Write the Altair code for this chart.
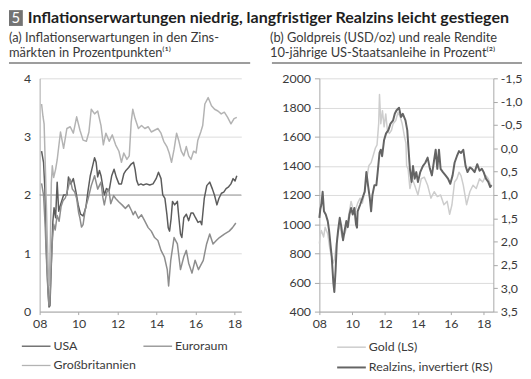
import altair as alt
import pandas as pd

# ---------------- texts ----------------
header_num = ["5"]
header_title = ["Inflationserwartungen niedrig, langfristiger Realzins leicht gestiegen"]
sub_a = ["(a) Inflationserwartungen in den Zins-", "märkten in Prozentpunkten⁽¹⁾"]
sub_b = ["(b) Goldpreis (USD/oz) und reale Rendite", "10-jährige US-Staatsanleihe in Prozent⁽²⁾"]

series_a = ["USA", "Euroraum", "Großbritannien"]
colors_a = ["#5c5c5c", "#8d8d8d", "#b3b3b3"]
series_b = ["Gold (LS)", "Realzins, invertiert (RS)"]
colors_b = ["#cdcdcd", "#646464"]

year_ticks = [2008, 2010, 2012, 2014, 2016, 2018]
ticks_a = [0, 1, 2, 3, 4]
ticks_gold = [400, 600, 800, 1000, 1200, 1400, 1600, 1800, 2000]
ticks_real = [-1.5, -1.0, -0.5, 0.0, 0.5, 1.0, 1.5, 2.0, 2.5, 3.0, 3.5]
ref_line_a = [2]

# ---------------- panel (a) data: (year, value) ----------------
usa = [(2008.10, 2.75), (2008.20, 2.56), (2008.27, 2.10), (2008.33, 1.20), (2008.38, 0.75),
       (2008.44, 0.30), (2008.48, 0.08), (2008.53, 0.10), (2008.58, 0.60), (2008.63, 1.10),
       (2008.68, 1.55), (2008.74, 1.78), (2008.82, 1.61), (2008.90, 2.22), (2008.98, 1.72),
       (2009.07, 1.83), (2009.23, 2.00), (2009.40, 2.00), (2009.48, 2.31), (2009.60, 2.19),
       (2009.73, 2.28), (2009.85, 2.08), (2009.98, 1.83), (2010.10, 1.67), (2010.23, 1.64),
       (2010.37, 1.78), (2010.48, 2.06), (2010.60, 2.33), (2010.70, 2.47), (2010.82, 2.64),
       (2010.90, 2.56), (2010.98, 2.31), (2011.07, 2.42), (2011.15, 2.33), (2011.23, 2.17),
       (2011.32, 2.00), (2011.43, 2.11), (2011.57, 2.08), (2011.70, 2.33), (2011.82, 2.44),
       (2011.93, 2.31), (2012.07, 2.19), (2012.20, 2.19), (2012.32, 2.36), (2012.43, 2.42),
       (2012.57, 2.47), (2012.70, 2.53), (2012.82, 2.56), (2012.90, 2.44), (2012.98, 2.25),
       (2013.07, 2.17), (2013.20, 2.19), (2013.32, 2.17), (2013.48, 2.19), (2013.65, 2.17),
       (2013.82, 2.19), (2013.98, 2.28), (2014.10, 2.39), (2014.23, 2.28), (2014.32, 2.00),
       (2014.43, 1.94), (2014.53, 1.67), (2014.60, 1.44), (2014.67, 1.38), (2014.75, 1.60),
       (2014.82, 1.89), (2014.93, 1.83), (2015.07, 1.89), (2015.13, 1.67), (2015.23, 1.33),
       (2015.30, 1.27), (2015.40, 1.61), (2015.53, 1.67), (2015.65, 1.56), (2015.77, 1.69),
       (2015.88, 1.69), (2016.00, 1.61), (2016.13, 1.53), (2016.25, 1.55), (2016.32, 1.49),
       (2016.45, 1.94), (2016.58, 2.16), (2016.73, 2.22), (2016.87, 2.10), (2016.98, 1.99),
       (2017.10, 1.83), (2017.20, 1.94), (2017.33, 2.03), (2017.45, 2.05), (2017.57, 2.11),
       (2017.70, 2.14), (2017.82, 2.19), (2017.93, 2.28), (2018.03, 2.24), (2018.12, 2.33)]

euro = [(2008.10, 2.20), (2008.20, 2.00), (2008.28, 1.50), (2008.35, 0.90), (2008.42, 0.40),
        (2008.48, 0.10), (2008.53, 0.20), (2008.58, 0.70), (2008.65, 1.20), (2008.72, 1.50),
        (2008.80, 1.40), (2008.90, 1.65), (2009.00, 1.55), (2009.10, 1.80), (2009.20, 1.90),
        (2009.32, 1.95), (2009.45, 2.10), (2009.57, 2.27), (2009.68, 2.10), (2009.80, 2.05),
        (2009.90, 1.94), (2010.00, 1.70), (2010.07, 1.60), (2010.15, 1.45), (2010.23, 1.49),
        (2010.35, 1.77), (2010.50, 1.95), (2010.65, 2.16), (2010.82, 2.33), (2010.98, 2.10),
        (2011.15, 2.22), (2011.25, 1.95), (2011.32, 1.83), (2011.45, 2.05), (2011.55, 2.10),
        (2011.65, 1.85), (2011.80, 1.99), (2011.90, 1.94), (2012.07, 1.88), (2012.23, 1.83),
        (2012.40, 1.77), (2012.57, 1.83), (2012.73, 1.72), (2012.80, 1.66), (2012.90, 1.72),
        (2013.07, 1.60), (2013.23, 1.66), (2013.40, 1.55), (2013.57, 1.44), (2013.73, 1.38),
        (2013.90, 1.27), (2014.07, 1.22), (2014.23, 1.05), (2014.40, 0.94), (2014.55, 0.72),
        (2014.62, 0.44), (2014.73, 0.88), (2014.90, 1.27), (2015.07, 1.16), (2015.23, 0.72),
        (2015.40, 0.94), (2015.53, 1.05), (2015.65, 0.83), (2015.82, 0.66), (2015.98, 0.88),
        (2016.15, 0.72), (2016.40, 0.88), (2016.57, 1.16), (2016.73, 1.33), (2016.90, 1.16),
        (2017.07, 1.22), (2017.23, 1.27), (2017.48, 1.33), (2017.73, 1.38), (2017.90, 1.44),
        (2018.07, 1.52)]

uk = [(2008.10, 3.56), (2008.17, 3.35), (2008.23, 3.22), (2008.30, 2.40), (2008.38, 1.40),
      (2008.45, 0.60), (2008.50, 0.45), (2008.55, 1.20), (2008.60, 2.20), (2008.65, 2.50),
      (2008.72, 2.30), (2008.82, 2.44), (2008.90, 2.60), (2009.07, 3.08), (2009.23, 2.80),
      (2009.40, 3.14), (2009.57, 3.17), (2009.73, 3.06), (2009.90, 3.34), (2010.07, 3.11),
      (2010.23, 2.94), (2010.40, 2.92), (2010.53, 3.08), (2010.65, 3.47), (2010.82, 3.39),
      (2010.98, 3.44), (2011.15, 3.19), (2011.27, 2.86), (2011.40, 3.06), (2011.57, 2.92),
      (2011.73, 3.03), (2011.90, 2.86), (2012.07, 2.75), (2012.20, 2.56), (2012.32, 2.72),
      (2012.48, 2.61), (2012.60, 2.67), (2012.70, 3.25), (2012.78, 3.47), (2012.90, 3.31),
      (2013.07, 3.14), (2013.23, 3.19), (2013.40, 3.14), (2013.57, 3.17), (2013.73, 3.08),
      (2013.90, 3.11), (2014.07, 3.14), (2014.23, 3.06), (2014.37, 2.92), (2014.53, 2.83),
      (2014.65, 2.72), (2014.77, 2.56), (2014.90, 2.78), (2015.03, 3.06), (2015.15, 2.92),
      (2015.27, 2.75), (2015.40, 2.67), (2015.53, 2.83), (2015.65, 2.67), (2015.77, 2.61),
      (2015.90, 2.75), (2016.03, 2.72), (2016.12, 2.94), (2016.27, 3.08), (2016.37, 3.19),
      (2016.48, 3.56), (2016.65, 3.67), (2016.82, 3.53), (2016.98, 3.47), (2017.15, 3.44),
      (2017.32, 3.39), (2017.48, 3.42), (2017.65, 3.33), (2017.82, 3.22), (2017.98, 3.31),
      (2018.12, 3.33)]

# ---------------- panel (b) data: (year, value) ----------------
gold = [(2008.00, 867), (2008.06, 930), (2008.12, 956), (2008.26, 912), (2008.35, 978),
        (2008.51, 933), (2008.65, 822), (2008.75, 778), (2008.85, 733), (2008.92, 760),
        (2008.99, 822), (2009.10, 911), (2009.24, 1000), (2009.38, 911), (2009.54, 933),
        (2009.67, 978), (2009.83, 1089), (2009.93, 1156), (2010.03, 1111), (2010.17, 1089),
        (2010.33, 1144), (2010.48, 1178), (2010.62, 1144), (2010.76, 1222), (2010.88, 1311),
        (2011.01, 1400), (2011.15, 1422), (2011.27, 1467), (2011.41, 1522), (2011.51, 1544),
        (2011.61, 1689), (2011.66, 1889), (2011.74, 1689), (2011.84, 1778), (2011.94, 1667),
        (2012.04, 1756), (2012.14, 1644), (2012.26, 1622), (2012.39, 1644), (2012.49, 1689),
        (2012.65, 1711), (2012.79, 1767), (2012.93, 1733), (2013.04, 1689), (2013.18, 1600),
        (2013.27, 1556), (2013.31, 1400), (2013.40, 1378), (2013.51, 1244), (2013.66, 1311),
        (2013.80, 1267), (2014.00, 1200), (2014.20, 1311), (2014.39, 1322), (2014.59, 1267),
        (2014.79, 1178), (2014.99, 1222), (2015.18, 1189), (2015.38, 1200), (2015.58, 1133),
        (2015.78, 1156), (2015.93, 1067), (2016.07, 1133), (2016.23, 1289), (2016.37, 1311),
        (2016.50, 1356), (2016.62, 1333), (2016.76, 1267), (2016.96, 1133), (2017.16, 1222),
        (2017.35, 1267), (2017.55, 1244), (2017.75, 1311), (2017.94, 1289), (2018.14, 1333),
        (2018.28, 1311), (2018.44, 1267)]

realzins = [(2008.00, 1.49), (2008.06, 1.30), (2008.12, 1.21), (2008.20, 0.93), (2008.28, 1.35),
            (2008.39, 1.42), (2008.51, 1.56), (2008.59, 1.76), (2008.67, 2.04), (2008.75, 2.32),
            (2008.85, 2.88), (2008.91, 3.08), (2008.99, 2.60), (2009.06, 2.04), (2009.14, 1.76),
            (2009.24, 1.49), (2009.34, 1.69), (2009.44, 1.97), (2009.54, 1.76), (2009.64, 1.56),
            (2009.73, 1.69), (2009.83, 1.42), (2009.93, 1.28), (2010.03, 1.42), (2010.13, 1.28),
            (2010.23, 1.63), (2010.29, 1.70), (2010.33, 1.35), (2010.48, 1.21), (2010.62, 1.07),
            (2010.76, 0.93), (2010.86, 0.51), (2010.96, 0.79), (2011.07, 1.07), (2011.15, 1.35),
            (2011.23, 1.00), (2011.35, 0.79), (2011.47, 0.79), (2011.55, 0.51), (2011.66, 0.10),
            (2011.74, 0.03), (2011.82, 0.17), (2011.94, -0.18), (2012.06, -0.32), (2012.20, -0.39),
            (2012.33, -0.53), (2012.49, -0.60), (2012.59, -0.74), (2012.69, -0.81), (2012.85, -0.87),
            (2012.97, -0.67), (2013.08, -0.74), (2013.24, -0.60), (2013.35, -0.39), (2013.43, 0.03),
            (2013.51, 0.44), (2013.61, 0.72), (2013.70, 0.38), (2013.80, 0.65), (2013.90, 0.51),
            (2014.00, 0.72), (2014.14, 0.51), (2014.30, 0.38), (2014.45, 0.31), (2014.59, 0.20),
            (2014.73, 0.44), (2014.85, 0.58), (2014.99, 0.24), (2015.08, 0.03), (2015.18, 0.44),
            (2015.28, 0.03), (2015.38, 0.44), (2015.52, 0.51), (2015.68, 0.58), (2015.83, 0.65),
            (2015.97, 0.76), (2016.11, 0.58), (2016.23, 0.31), (2016.37, 0.17), (2016.50, 0.06),
            (2016.62, 0.10), (2016.76, 0.03), (2016.90, 0.38), (2017.02, 0.51), (2017.16, 0.41),
            (2017.29, 0.44), (2017.45, 0.51), (2017.61, 0.34), (2017.75, 0.48), (2017.89, 0.44),
            (2018.00, 0.51), (2018.14, 0.65), (2018.28, 0.72), (2018.40, 0.83), (2018.48, 0.79)]

# ---------------- build tables ----------------
def frame(pairs, name):
    return pd.DataFrame({"year": [p[0] for p in pairs], "value": [p[1] for p in pairs], "series": name})

df_a = pd.concat([frame(usa, series_a[0]), frame(euro, series_a[1]), frame(uk, series_a[2])])
df_gold = frame(gold, series_b[0])
df_real = frame(realzins, series_b[1])

FONT = "Lato"
TXT = "#3a3a3a"
AX = "#a8a8a8"
W_A, W_B, H = 204, 176, 236

def txt(s, x, y, size=13, baseline="alphabetic"):
    return alt.Chart(pd.DataFrame({"t": [s]})).mark_text(
        align="left", baseline=baseline, font=FONT, fontSize=size, color=TXT
    ).encode(text="t:N", x=alt.value(x), y=alt.value(y))

def hrule(x1, x2, y, color="#3a3a3a", sw=1):
    return alt.Chart(pd.DataFrame({"t": [0]})).mark_rule(color=color, strokeWidth=sw).encode(
        x=alt.value(x1), x2=alt.value(x2), y=alt.value(y))

def legend_entry(name, color, x, y, sw=1.3):
    return [hrule(x, x + 29, y, color=color, sw=sw), txt(name, x + 32, y, size=12.5, baseline="middle")]

x_axis = dict(values=year_ticks, labelExpr="substring(toString(datum.value), 2)", grid=False,
              tickSize=3, labelPadding=3, labelFlush=False, labelOverlap=False, title=None)

# ---------------- panel (a) ----------------
lines_a = alt.Chart(df_a).mark_line(strokeWidth=1.5, strokeJoin="round").encode(
    x=alt.X("year:Q", scale=alt.Scale(domain=[2008, 2018.35], nice=False, zero=False),
            axis=alt.Axis(**x_axis)),
    y=alt.Y("value:Q", scale=alt.Scale(domain=[0, 4], nice=False),
            axis=alt.Axis(values=ticks_a, format="d", ticks=False, labelPadding=9, grid=True, title=None)),
    color=alt.Color("series:N", scale=alt.Scale(domain=series_a, range=colors_a), legend=None),
)
ref_a = alt.Chart(pd.DataFrame({"v": ref_line_a})).mark_rule(color="#9a9a9a", strokeWidth=1).encode(y="v:Q")

box = alt.Chart(pd.DataFrame({"t": [0]})).mark_rect(color="#737373").encode(
    x=alt.value(-31), x2=alt.value(-17), y=alt.value(-69), y2=alt.value(-53))
num = alt.Chart(pd.DataFrame({"t": header_num})).mark_text(
    align="center", baseline="alphabetic", font=FONT, fontSize=15, color="white"
).encode(text="t:N", x=alt.value(-24), y=alt.value(-55.5))
title = alt.Chart(pd.DataFrame({"t": header_title})).mark_text(
    align="left", baseline="alphabetic", font=FONT, fontSize=16.2, fontWeight="bold", color="#1e1e1e"
).encode(text="t:N", x=alt.value(-12), y=alt.value(-55.5))

leg_a = (legend_entry(series_a[0], colors_a[0], -18, 271)
         + legend_entry(series_a[1], colors_a[1], 105, 271)
         + legend_entry(series_a[2], colors_a[2], -18, 290.5))

left = alt.layer(
    ref_a, lines_a, box, num, title,
    txt(sub_a[0], -31, -37), txt(sub_a[1], -31, -21.5), hrule(-31, 213, -15.5),
    *leg_a
).properties(width=W_A, height=H)

# ---------------- panel (b) ----------------
xb = alt.X("year:Q", scale=alt.Scale(domain=[2008, 2018.59], nice=False, zero=False), axis=alt.Axis(**x_axis))
color_b = alt.Color("series:N", scale=alt.Scale(domain=series_b, range=colors_b), legend=None)
sw_b = alt.StrokeWidth("series:N", scale=alt.Scale(domain=series_b, range=[1.5, 2.0]), legend=None)

gold_line = alt.Chart(df_gold).mark_line(strokeJoin="round").encode(
    x=xb,
    y=alt.Y("value:Q", scale=alt.Scale(domain=[400, 2000], nice=False, zero=False),
            axis=alt.Axis(values=ticks_gold, format="d", tickSize=5, labelPadding=4, grid=True, title=None)),
    color=color_b, strokeWidth=sw_b,
)
real_line = alt.Chart(df_real).mark_line(strokeJoin="round").encode(
    x=xb,
    y=alt.Y("value:Q", scale=alt.Scale(domain=[-1.5, 3.5], nice=False, zero=False, reverse=True),
            axis=alt.Axis(orient="right", values=ticks_real, tickSize=4, labelPadding=3, grid=False, title=None,
                          labelExpr="(datum.value < 0 ? '-' : '') + replace(format(abs(datum.value), '.1f'), '.', ',')")),
    color=color_b, strokeWidth=sw_b,
)

leg_b = (legend_entry(series_b[0], colors_b[0], 18, 272, sw=1.5)
         + legend_entry(series_b[1], colors_b[1], 18, 292.5, sw=2.0))

right = alt.layer(
    gold_line, real_line,
    txt(sub_b[0], -50, -37), txt(sub_b[1], -50, -21.5), hrule(-48, 205, -15.5),
    *leg_b
).resolve_scale(y="independent").properties(width=W_B, height=H)

chart = alt.hconcat(left, right, spacing=79, bounds="flush").resolve_scale(
    color="independent", strokeWidth="independent"
).properties(
    padding={"left": 0, "top": 0, "right": 0, "bottom": 0}
).configure_view(stroke=None).configure_axis(
    domainColor=AX, tickColor=AX, gridColor="#dcdcdc", labelColor=TXT, labelFont=FONT, labelFontSize=12.5
)

chart.save("out.html", embed_options={"renderer": "svg", "actions": False})
